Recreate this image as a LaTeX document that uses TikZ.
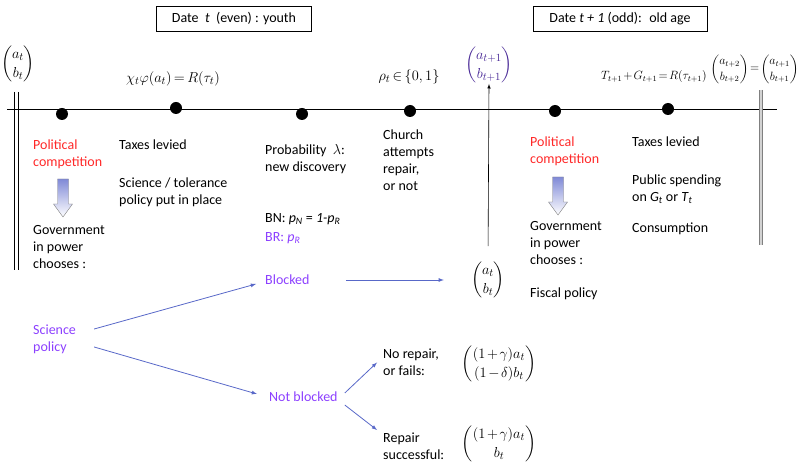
\documentclass[tikz,border=0pt]{standalone}
\usepackage{amsmath,amssymb}
\usepackage{fontspec}
\setmainfont{Carlito}
\usepackage{tikz}
\usepackage{xcolor}
\definecolor{polred}{RGB}{255,40,40}
\definecolor{scipurple}{RGB}{140,64,255}
\definecolor{flowblue}{RGB}{88,104,200}
\definecolor{vecpurple}{RGB}{72,40,150}
\definecolor{arrowblue}{RGB}{128,138,215}
\newcommand{\bodyfont}{\fontsize{14}{17}\selectfont}
\newcommand{\eqfont}{\fontsize{15}{17}\selectfont\medmuskip=2mu\thickmuskip=3mu}
\newcommand{\smalleq}{\fontsize{12}{14.5}\selectfont\medmuskip=1.5mu\thickmuskip=2mu}
\newcommand{\colvec}[2]{{\renewcommand{\arraystretch}{1.1}\begin{pmatrix}#1\\#2\end{pmatrix}}}
\newcommand{\sub}[2]{\textit{#1}\textsubscript{\textit{#2}}}
\newcommand{\govarrow}[1]{\path[draw=gray,top color=arrowblue,bottom color=white] (#1) ++(-5.5,0) -- ++(11,0) -- ++(0,25) -- ++(4,0) -- ++(-9.5,13) -- ++(-9.5,-13) -- ++(4,0) -- cycle;}

\begin{document}
\begin{tikzpicture}[x=1pt,y=-1pt,>=latex,
  txt/.style={anchor=west,align=left,inner sep=0pt,font=\bodyfont},
  datebox/.style={draw,inner sep=0pt,minimum height=25pt,font=\bodyfont},
  eq/.style={inner sep=0pt,font=\eqfont},
  dot/.style={circle,fill,inner sep=0pt,minimum size=12pt},
  flow/.style={->,flowblue,line width=0.8pt}]
\useasboundingbox (0,0) rectangle (801,462);

% date headers
\node[datebox,minimum width=155pt] (youth) at (234,19) {Date~ \textit{t}~ (even) : youth};
\node[datebox,minimum width=174pt] (old) at (620,19) {Date \textit{t + 1} (odd):~ old age};

% time line
\draw[line width=0.8pt] (7,109) -- (777,109);
\draw[line width=0.7pt] (14.5,92) -- (14.5,270) (18.5,92) -- (18.5,270);
\draw[line width=1.2pt,gray,double=gray!35,double distance=1.4pt] (761,90) -- (761,245);
\node[dot] (d1) at (62,114) {};
\node[dot] (d2) at (176,108) {};
\node[dot] (d3) at (302,114) {};
\node[dot] (d4) at (410,111) {};
\node[dot] (d5) at (555,111) {};
\node[dot] (d6) at (668,109) {};

% formulas above the line
\node[eq] (m0) at (18,64) {$\colvec{a_t}{b_t}$};
\node[eq] (tax) at (173,79) {$\chi_t\varphi(a_t) = R(\tau_t)$};
\node[eq] (rho) at (409,77) {$\rho_t \in \{0,1\}$};
\node[eq,text=vecpurple] (m1) at (489,65) {$\colvec{a_{t+1}}{b_{t+1}}$};
\node[eq,font=\smalleq,anchor=east] (budget) at (707,77) {$T_{t+1}+G_{t+1} = R(\tau_{t+1})$};
\node[eq,font=\smalleq,anchor=east] (m2) at (799,69) {$\colvec{a_{t+2}}{b_{t+2}} = \colvec{a_{t+1}}{b_{t+1}}$};

% youth
\node[txt,text=polred] (pc1) at (33,154) {Political\\competition};
\govarrow{63,179}
\node[txt] (gov1) at (33,247) {Government\\in power\\chooses :};
\node[txt] (tax1) at (119,145) {Taxes levied};
\node[txt] (pol1) at (119,192) {Science / tolerance\\policy put in place};
\node[txt] (prob) at (265,159) {Probability ~$\lambda$:\\new discovery};
\node[txt] (bn) at (265,219) {BN: \sub{p}{N} = \textit{1-}\sub{p}{R}};
\node[txt,text=scipurple] (br) at (265,238) {BR: \sub{p}{R}};
\node[txt] (church) at (383,160.5) {Church\\attempts\\repair,\\or not};

% old age
\node[txt,text=polred] (pc2) at (530,151) {Political\\competition};
\govarrow{558,177}
\node[txt] (gov2) at (530,243.5) {Government\\in power\\chooses :};
\node[txt] (fisc) at (530,294) {Fiscal policy};
\node[txt] (tax2) at (632,142) {Taxes levied};
\node[txt] (pub) at (632,189) {Public spending\\on \sub{G}{t} or \sub{T}{t}};
\node[txt] (cons) at (632,229) {Consumption};

% science policy tree
\node[txt,text=scipurple] (scip) at (33,339) {Science\\policy};
\node[txt,text=scipurple] (blk) at (265,280) {Blocked};
\node[txt,text=scipurple] (nblk) at (269,397) {Not blocked};
\node[eq] (mb) at (488,280) {$\colvec{a_t}{b_t}$};
\node[txt] (norep) at (383,362.5) {No repair,\\or fails:};
\node[eq] (mnr) at (499,364) {$\colvec{(1+\gamma)a_t}{(1-\delta)b_t}$};
\node[txt] (rep) at (383,446) {Repair\\successful:};
\node[eq] (mrs) at (499,444) {$\colvec{(1+\gamma)a_t}{b_t}$};

\draw[flow] ([shift={(18,-10)}]scip.east) -- ([shift={(-9,4)}]blk.west);
\draw[flow] ([shift={(18,8)}]scip.east) -- ([shift={(-12,-3)}]nblk.west);
\draw[flow] ([xshift=36pt]blk.east) -- ([xshift=-27pt]mb.west);
\draw[flow] ([shift={(7,-4)}]nblk.east) -- ([xshift=-6pt]norep.west);
\draw[flow] ([shift={(7,8)}]nblk.east) -- ([shift={(-6,-16)}]rep.west);
\draw[->,line width=0.6pt,shorten <=15pt] (mb.north) -- (m1.south);
\end{tikzpicture}
\end{document}
